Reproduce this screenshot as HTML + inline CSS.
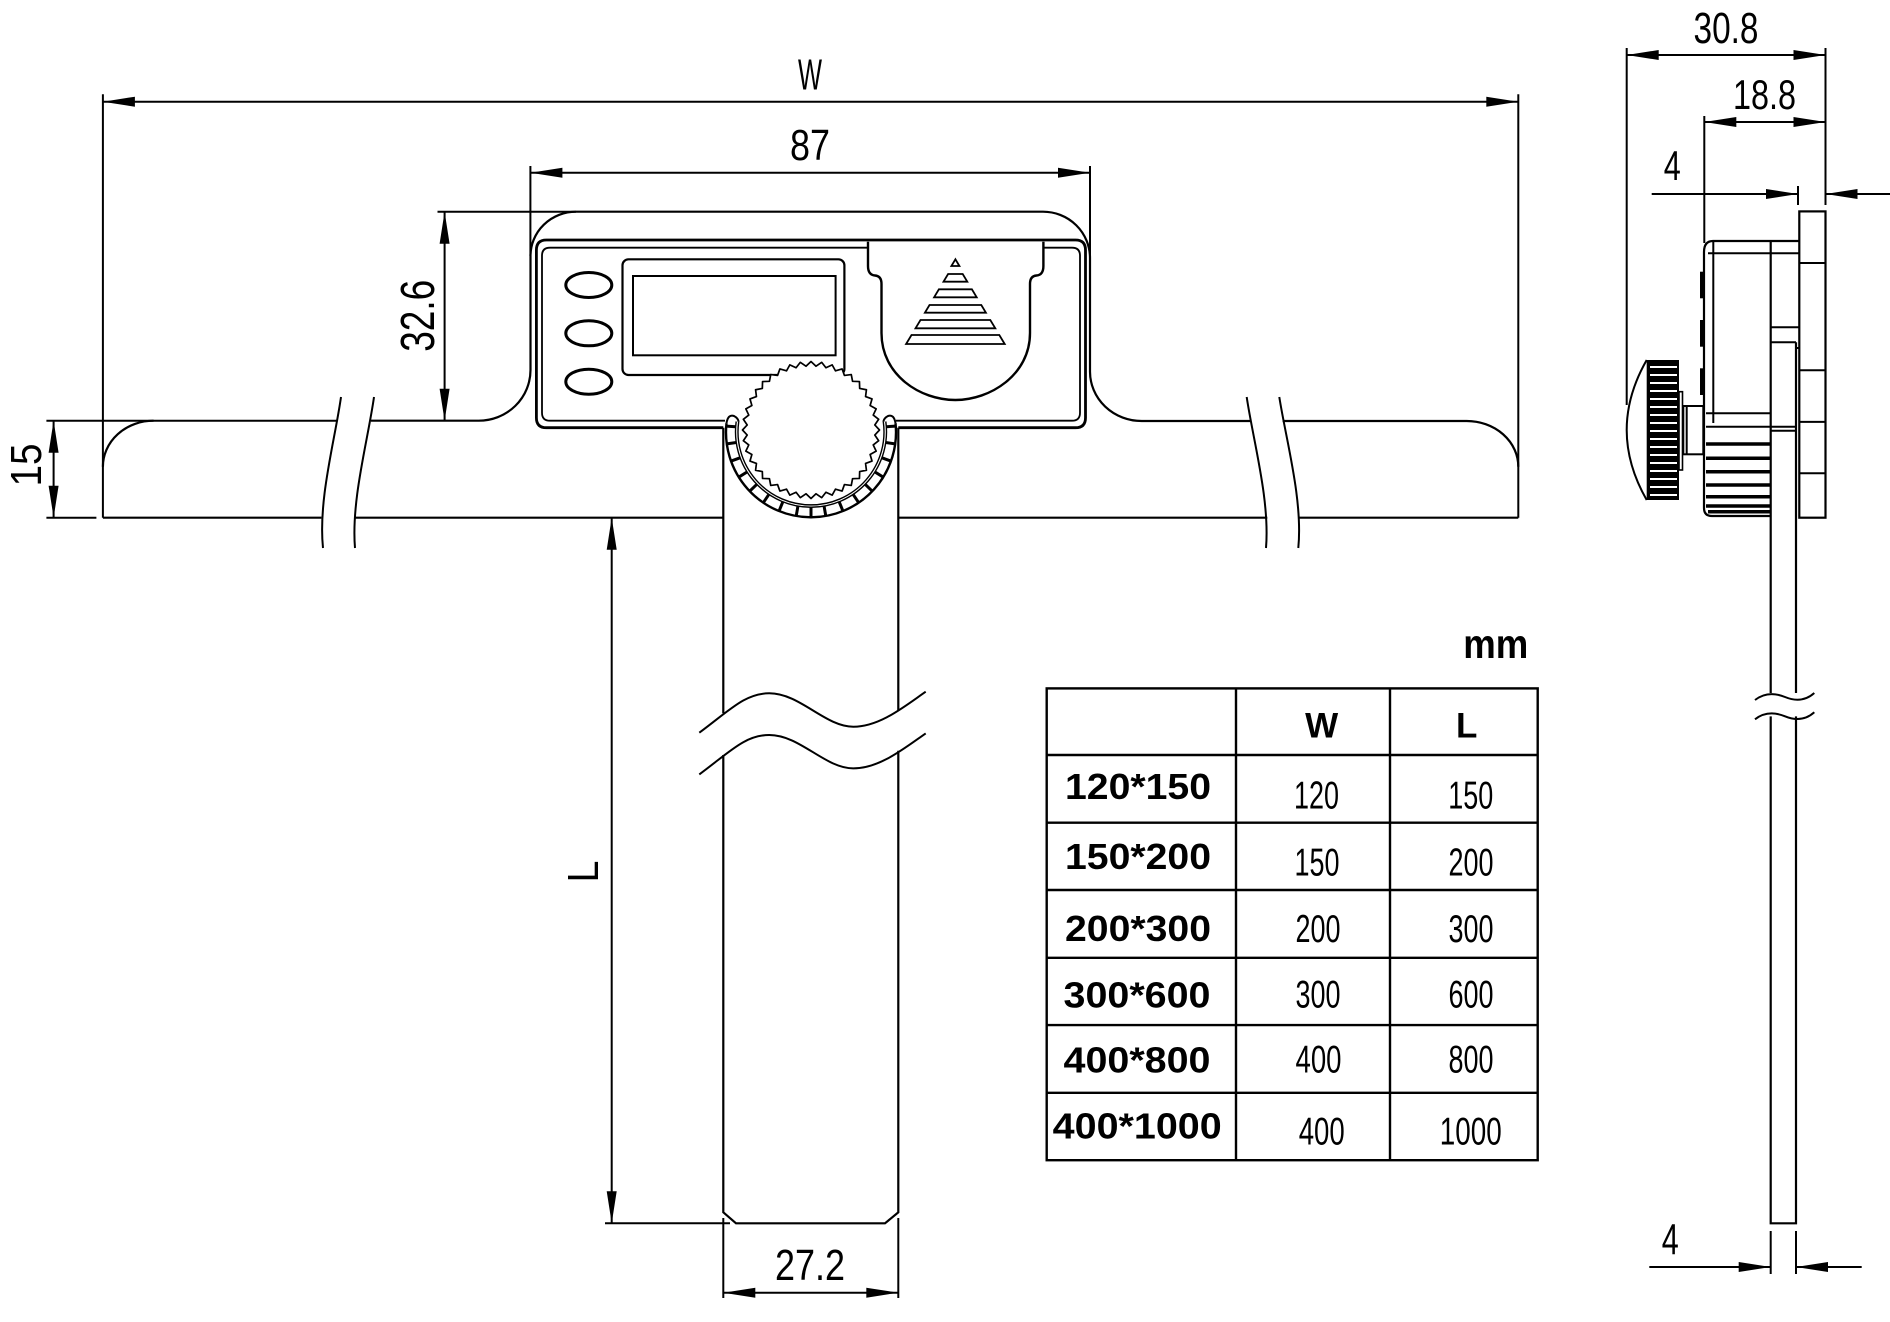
<!DOCTYPE html>
<html><head><meta charset="utf-8"><style>
html,body{margin:0;padding:0;background:#fff;}
svg{display:block;}
.d{font-family:"Liberation Sans",Arial,sans-serif;font-size:44px;fill:#000;stroke:none;}
.b{font-family:"Liberation Sans",Arial,sans-serif;font-weight:bold;fill:#000;stroke:none;}
.v{font-family:"Liberation Sans",Arial,sans-serif;font-size:39px;fill:#000;stroke:none;}
</style></head><body>
<svg width="1890" height="1322" viewBox="0 0 1890 1322" xmlns="http://www.w3.org/2000/svg">
<rect width="1890" height="1322" fill="#fff"/>
<g fill="none" stroke="#000" stroke-width="2">
<!-- dimension lines top view -->
<line x1="102.9" y1="101.7" x2="1518.3" y2="101.7"/>
<line x1="102.9" y1="94.3" x2="102.9" y2="517.7"/>
<line x1="1518.3" y1="94.3" x2="1518.3" y2="517.7"/>
<line x1="530.4" y1="172.7" x2="1090" y2="172.7"/>
<line x1="530.4" y1="166" x2="530.4" y2="256"/>
<line x1="1090" y1="166" x2="1090" y2="258"/>
<line x1="444.6" y1="211.7" x2="444.6" y2="420.7"/>
<line x1="437.5" y1="211.7" x2="576" y2="211.7"/>
<line x1="53.6" y1="420.7" x2="53.6" y2="517.7"/>
<line x1="46.4" y1="420.7" x2="337.5" y2="420.7"/>
<line x1="46.4" y1="517.7" x2="96.4" y2="517.7"/>
<line x1="611.7" y1="517.7" x2="611.7" y2="1223.3"/>
<line x1="605" y1="1223.3" x2="730" y2="1223.3"/>
<line x1="723.3" y1="1292.7" x2="898.3" y2="1292.7"/>
<line x1="723.3" y1="1218" x2="723.3" y2="1298"/>
<line x1="898.3" y1="1218" x2="898.3" y2="1298"/>

<!-- bar & body outline -->
<path stroke-width="2.2" d="M371,420.7 L478.6,420.7 A51.8 50.7 0 0 0 530.5,370 L530.5,256 A45.5 44.3 0 0 1 576,211.7 L1043,211.7 A47 46.3 0 0 1 1090,258 L1090,371.7 A51.7 49.3 0 0 0 1141.7,421 L1250,421"/>
<path stroke-width="2.2" d="M1282.7,421 L1466.7,421 A51.6 45.7 0 0 1 1518.3,466.7"/>
<path stroke-width="2.2" d="M102.9,466.7 A50.7 46 0 0 1 153.6,420.7"/>
<line stroke-width="2.2" x1="102.9" y1="517.7" x2="321.4" y2="517.7"/>
<line stroke-width="2.2" x1="355" y1="517.7" x2="723.3" y2="517.7"/>
<line stroke-width="2.2" x1="898.3" y1="517.7" x2="1267.3" y2="517.7"/>
<line stroke-width="2.2" x1="1299.3" y1="517.7" x2="1518.3" y2="517.7"/>
<!-- bar break lines -->
<path d="M341,397 C335,440 318,500 323,548"/>
<path d="M374,397 C368,440 351,500 355,548"/>
<path d="M1246.7,397 C1253,440 1270,500 1266,548"/>
<path d="M1279.3,397 C1286,440 1303,500 1298.3,548"/>

<!-- blade -->
<path stroke-width="2.2" d="M723.3,427.7 L723.3,713.3"/>
<path stroke-width="2.2" d="M723.3,755 L723.3,1212.3 L736,1223.3 L885,1223.3 L898.3,1212.3 L898.3,750.7"/>
<path stroke-width="2.2" d="M898.3,710 L898.3,427.7"/>
<path d="M699.3,732.7 C730,710 745,693.3 769.3,693.3 C800,693.3 825,726.7 853.3,726.7 C880,726.7 905,706 925.7,691.7"/>
<path d="M699.3,774.4 C730,751.7 745,735 769.3,735 C800,735 825,768.4 853.3,768.4 C880,768.4 905,747.7 925.7,733.4"/>

<!-- frame -->
<path stroke-width="2.8" d="M723.3,427.7 L546.4,427.7 Q536.4,427.7 536.4,417.7 L536.4,250 Q536.4,240 546.4,240 L1075.5,240 Q1085.5,240 1085.5,250 L1085.5,417.7 Q1085.5,427.7 1075.5,427.7 L898.3,427.7"/>
<path stroke-width="1.8" d="M725,420.7 L550,420.7 Q542,420.7 542,412.7 L542,255.7 Q542,247.7 550,247.7 L868,247.7 M1043.4,247.7 L1072,247.7 Q1080,247.7 1080,255.7 L1080,412.7 Q1080,420.7 1072,420.7 L896,420.7"/>
<!-- buttons -->
<ellipse cx="588.8" cy="285" rx="23" ry="12.5" stroke-width="3"/>
<ellipse cx="588.8" cy="333.3" rx="23" ry="12.5" stroke-width="3"/>
<ellipse cx="588.8" cy="381.7" rx="23" ry="12.5" stroke-width="3"/>
<!-- LCD -->
<rect x="622.5" y="259.3" width="221.9" height="115.7" rx="6" stroke-width="2.2"/>
<rect x="633" y="276" width="202.6" height="79.3" stroke-width="2"/>
<!-- battery cover -->
<path stroke-width="2.4" d="M868,241.7 L868,266 Q868,275 875,275.5 Q881.5,276 881.5,284 L881.5,333 C881.5,375 920,400 955.4,400 C990,400 1030,375 1030,333 L1030,284 Q1030,276 1036.5,275.5 Q1043.4,275 1043.4,266 L1043.4,241.7"/>
<g stroke-width="1.8">
<polygon points="955.4,259.3 951.4,266 959.4,266"/>
<polygon points="948.1,274 962.7,274 967.3,281.7 943.5,281.7"/>
<polygon points="938.9,289.3 971.9,289.3 976.7,297.3 934.1,297.3"/>
<polygon points="929.5,305 981.3,305 985.9,312.7 924.9,312.7"/>
<polygon points="920.5,320 990.3,320 995.3,328.3 915.5,328.3"/>
<polygon points="911.5,335 999.3,335 1004.7,344 906.1,344"/>
</g>

<!-- knob holder -->
<path stroke-width="2.4" d="M726.5,423.1 A85 85 0 1 0 895.5,423.1"/>
<path stroke-width="1.4" d="M738.7,421.8 A73 73 0 1 0 883.3,421.8"/>
<path stroke-width="1.4" d="M736.2,421.5 A75.5 75.5 0 1 0 885.8,421.5"/>
<path stroke-width="2" d="M726.5,423.1 Q728,414 734,416 Q738,418 738.7,421.8"/>
<path stroke-width="2" d="M895.5,423.1 Q894,414 888,416 Q884,418 883.3,421.8"/>
<g stroke-width="3" transform="translate(811,432)">
<line x1="75.5" y1="0" x2="85" y2="0" transform="rotate(-4)"/>
<line x1="75.5" y1="0" x2="85" y2="0" transform="rotate(8)"/>
<line x1="75.5" y1="0" x2="85" y2="0" transform="rotate(20)"/>
<line x1="75.5" y1="0" x2="85" y2="0" transform="rotate(32)"/>
<line x1="75.5" y1="0" x2="85" y2="0" transform="rotate(44)"/>
<line x1="75.5" y1="0" x2="85" y2="0" transform="rotate(56)"/>
<line x1="75.5" y1="0" x2="85" y2="0" transform="rotate(68)"/>
<line x1="75.5" y1="0" x2="85" y2="0" transform="rotate(80)"/>
<line x1="75.5" y1="0" x2="85" y2="0" transform="rotate(90)"/>
<line x1="75.5" y1="0" x2="85" y2="0" transform="rotate(100)"/>
<line x1="75.5" y1="0" x2="85" y2="0" transform="rotate(112)"/>
<line x1="75.5" y1="0" x2="85" y2="0" transform="rotate(124)"/>
<line x1="75.5" y1="0" x2="85" y2="0" transform="rotate(136)"/>
<line x1="75.5" y1="0" x2="85" y2="0" transform="rotate(148)"/>
<line x1="75.5" y1="0" x2="85" y2="0" transform="rotate(160)"/>
<line x1="75.5" y1="0" x2="85" y2="0" transform="rotate(172)"/>
<line x1="75.5" y1="0" x2="85" y2="0" transform="rotate(184)"/>
</g>
<!-- knob gear -->
<g transform="translate(811,430)">
<polygon fill="#fff" stroke-width="1.7" stroke-linejoin="round" points="68.5,0 63.8,5.02 67.66,10.72 62.23,14.94 65.15,21.17 59.13,24.49 61.03,31.1 54.57,33.44 55.42,40.26 48.67,41.56 48.44,48.44 41.56,48.67 40.26,55.42 33.44,54.57 31.1,61.03 24.49,59.13 21.17,65.15 14.94,62.23 10.72,67.66 5.02,63.8 0,68.5 -5.02,63.8 -10.72,67.66 -14.94,62.23 -21.17,65.15 -24.49,59.13 -31.1,61.03 -33.44,54.57 -40.26,55.42 -41.56,48.67 -48.44,48.44 -48.67,41.56 -55.42,40.26 -54.57,33.44 -61.03,31.1 -59.13,24.49 -65.15,21.17 -62.23,14.94 -67.66,10.72 -63.8,5.02 -68.5,0 -63.8,-5.02 -67.66,-10.72 -62.23,-14.94 -65.15,-21.17 -59.13,-24.49 -61.03,-31.1 -54.57,-33.44 -55.42,-40.26 -48.67,-41.56 -48.44,-48.44 -41.56,-48.67 -40.26,-55.42 -33.44,-54.57 -31.1,-61.03 -24.49,-59.13 -21.17,-65.15 -14.94,-62.23 -10.72,-67.66 -5.02,-63.8 0,-68.5 5.02,-63.8 10.72,-67.66 14.94,-62.23 21.17,-65.15 24.49,-59.13 31.1,-61.03 33.44,-54.57 40.26,-55.42 41.56,-48.67 48.44,-48.44 48.67,-41.56 55.42,-40.26 54.57,-33.44 61.03,-31.1 59.13,-24.49 65.15,-21.17 62.23,-14.94 67.66,-10.72 63.8,-5.02"/>
</g>

<!-- side view dims -->
<line x1="1626.7" y1="55" x2="1825.5" y2="55"/>
<line x1="1626.7" y1="48" x2="1626.7" y2="405"/>
<line x1="1825.5" y1="48" x2="1825.5" y2="205"/>
<line x1="1704.3" y1="122" x2="1825.5" y2="122"/>
<line x1="1704.3" y1="116" x2="1704.3" y2="243"/>
<line x1="1651.7" y1="194" x2="1798" y2="194"/>
<line x1="1825.5" y1="194" x2="1890" y2="194"/>
<line x1="1798" y1="186" x2="1798" y2="205"/>
<line x1="1649.3" y1="1267" x2="1770.7" y2="1267"/>
<line x1="1796" y1="1267" x2="1861.7" y2="1267"/>
<line x1="1770.7" y1="1231" x2="1770.7" y2="1274"/>
<line x1="1796" y1="1231" x2="1796" y2="1274"/>

<!-- side view plate -->
<rect x="1799.3" y="211.4" width="26.2" height="306.3" stroke-width="2.2"/>
<line x1="1799.3" y1="263" x2="1825.5" y2="263"/>
<line x1="1799.3" y1="370.2" x2="1825.5" y2="370.2"/>
<line x1="1799.3" y1="421.9" x2="1825.5" y2="421.9"/>
<line x1="1799.3" y1="473.3" x2="1825.5" y2="473.3"/>
<!-- side body -->
<path stroke-width="2.2" d="M1799,241 L1713,241 Q1704,241 1704,252 L1704,508 Q1704,516 1712,516 L1770.7,516"/>
<line x1="1708" y1="253.3" x2="1799" y2="253.3"/>
<line x1="1713.3" y1="241" x2="1713.3" y2="423"/>
<line x1="1770.7" y1="327.3" x2="1799" y2="327.3"/>
<line x1="1770.7" y1="342.3" x2="1796" y2="342.3"/>
<path d="M1796,348 L1799,348"/>
<line x1="1706" y1="413.3" x2="1770.7" y2="413.3"/>
<line x1="1706" y1="426.7" x2="1796" y2="426.7"/>
<line x1="1770.7" y1="430.7" x2="1796" y2="430.7"/>
<g stroke-width="3.5">
<line x1="1706" y1="444" x2="1770.7" y2="444"/>
<line x1="1706" y1="458.3" x2="1770.7" y2="458.3"/>
<line x1="1706" y1="471.7" x2="1770.7" y2="471.7"/>
<line x1="1706" y1="485" x2="1770.7" y2="485"/>
<line x1="1706" y1="496.7" x2="1770.7" y2="496.7"/>
<line x1="1706" y1="506" x2="1770.7" y2="506"/>
<line x1="1708" y1="511.7" x2="1770.7" y2="511.7"/>
</g>
<!-- side blade -->
<path stroke-width="2.2" d="M1770.7,241 L1770.7,693"/>
<path stroke-width="2.2" d="M1770.7,716.4 L1770.7,1223.3 L1796,1223.3 L1796,716.4"/>
<path stroke-width="2.2" d="M1796,693 L1796,342.3"/>
<path d="M1755,700 Q1768,690 1785,697 T1814.3,693"/>
<path d="M1755,719.3 Q1768,709.3 1785,716.3 T1814.3,712.3"/>
<!-- side knob -->
<path stroke-width="2" d="M1646.7,360 Q1606.7,430 1646.7,500"/>
<rect x="1679" y="391.7" width="3.5" height="78.3" stroke-width="1.6"/>
<rect x="1683.3" y="406" width="20" height="48.3" stroke-width="2"/>
<line x1="1686.7" y1="406" x2="1686.7" y2="454.3"/>

<!-- table -->
<g stroke-width="2.4">
<rect x="1046.7" y="688.4" width="491" height="471.8"/>
<line x1="1236" y1="688.4" x2="1236" y2="1160.2"/>
<line x1="1390" y1="688.4" x2="1390" y2="1160.2"/>
<line x1="1046.7" y1="755" x2="1537.7" y2="755"/>
<line x1="1046.7" y1="822.7" x2="1537.7" y2="822.7"/>
<line x1="1046.7" y1="890" x2="1537.7" y2="890"/>
<line x1="1046.7" y1="957.8" x2="1537.7" y2="957.8"/>
<line x1="1046.7" y1="1025.1" x2="1537.7" y2="1025.1"/>
<line x1="1046.7" y1="1092.8" x2="1537.7" y2="1092.8"/>
</g>
</g>

<!-- filled shapes -->
<g fill="#000" stroke="none">
<!-- arrowheads -->
<polygon points="102.9,101.7 134.9,96.7 134.9,106.7"/>
<polygon points="1518.3,101.7 1486.3,96.7 1486.3,106.7"/>
<polygon points="530.4,172.7 562.4,167.7 562.4,177.7"/>
<polygon points="1090,172.7 1058,167.7 1058,177.7"/>
<polygon points="723.3,1292.7 755.3,1287.7 755.3,1297.7"/>
<polygon points="898.3,1292.7 866.3,1287.7 866.3,1297.7"/>
<polygon points="444.6,211.7 439.6,243.7 449.6,243.7"/>
<polygon points="444.6,420.7 439.6,388.7 449.6,388.7"/>
<polygon points="53.6,420.7 48.6,452.7 58.6,452.7"/>
<polygon points="53.6,517.7 48.6,485.7 58.6,485.7"/>
<polygon points="611.7,517.7 606.7,549.7 616.7,549.7"/>
<polygon points="611.7,1223.3 606.7,1191.3 616.7,1191.3"/>
<polygon points="1626.7,55 1658.7,50 1658.7,60"/>
<polygon points="1825.5,55 1793.5,50 1793.5,60"/>
<polygon points="1704.3,122 1736.3,117 1736.3,127"/>
<polygon points="1825.5,122 1793.5,117 1793.5,127"/>
<polygon points="1798,194 1766,189 1766,199"/>
<polygon points="1825.5,194 1857.5,189 1857.5,199"/>
<polygon points="1770.7,1267 1738.7,1262 1738.7,1272"/>
<polygon points="1796,1267 1828,1262 1828,1272"/>
<!-- side buttons -->
<rect x="1700" y="271.7" width="5" height="26.6"/>
<rect x="1700" y="320" width="5" height="26.7"/>
<rect x="1700" y="368.3" width="5" height="26.7"/>
<!-- side knob knurl -->
<rect x="1646.7" y="360" width="32.3" height="140"/>
</g>
<g stroke="#fff" stroke-width="2">
<line x1="1650" y1="367" x2="1677" y2="367"/>
<line x1="1650" y1="375" x2="1677" y2="375"/>
<line x1="1650" y1="383" x2="1677" y2="383"/>
<line x1="1650" y1="391" x2="1677" y2="391"/>
<line x1="1650" y1="399" x2="1677" y2="399"/>
<line x1="1650" y1="407" x2="1677" y2="407"/>
<line x1="1650" y1="415" x2="1677" y2="415"/>
<line x1="1650" y1="423" x2="1677" y2="423"/>
<line x1="1650" y1="431" x2="1677" y2="431"/>
<line x1="1650" y1="439" x2="1677" y2="439"/>
<line x1="1650" y1="447" x2="1677" y2="447"/>
<line x1="1650" y1="455" x2="1677" y2="455"/>
<line x1="1650" y1="463" x2="1677" y2="463"/>
<line x1="1650" y1="471" x2="1677" y2="471"/>
<line x1="1650" y1="479" x2="1677" y2="479"/>
<line x1="1650" y1="487" x2="1677" y2="487"/>
<line x1="1650" y1="495" x2="1677" y2="495"/>
</g>

<!-- dimension text -->
<text class="d" x="810" y="89.3" text-anchor="middle" textLength="24" lengthAdjust="spacingAndGlyphs">W</text>
<text class="d" x="810" y="160" text-anchor="middle" textLength="40" lengthAdjust="spacingAndGlyphs">87</text>
<text class="d" x="810" y="1280" text-anchor="middle" textLength="70" lengthAdjust="spacingAndGlyphs">27.2</text>
<text class="d" style="font-size:48px" transform="translate(434,315.8) rotate(-90)" text-anchor="middle" textLength="72" lengthAdjust="spacingAndGlyphs">32.6</text>
<text class="d" transform="translate(41,465) rotate(-90)" text-anchor="middle" textLength="43" lengthAdjust="spacingAndGlyphs">15</text>
<text class="d" transform="translate(598,871.5) rotate(-90)" text-anchor="middle" textLength="22" lengthAdjust="spacingAndGlyphs">L</text>
<text class="d" x="1726" y="42.9" text-anchor="middle" textLength="65" lengthAdjust="spacingAndGlyphs">30.8</text>
<text class="d" style="font-size:42px" x="1764.5" y="109" text-anchor="middle" textLength="63" lengthAdjust="spacingAndGlyphs">18.8</text>
<text class="d" style="font-size:42px" x="1672.3" y="180" text-anchor="middle" textLength="17" lengthAdjust="spacingAndGlyphs">4</text>
<text class="d" x="1670.3" y="1254.4" text-anchor="middle" textLength="17" lengthAdjust="spacingAndGlyphs">4</text>

<!-- table text -->
<text class="b" style="font-size:41px" x="1463.3" y="657.9" textLength="65" lengthAdjust="spacingAndGlyphs">mm</text>
<text class="b" style="font-size:35px" x="1321.7" y="737.5" text-anchor="middle">W</text>
<text class="b" style="font-size:35px" x="1466.7" y="737.5" text-anchor="middle">L</text>
<g class="b" style="font-size:36px">
<text class="b" style="font-size:36px" x="1138" y="798.9" text-anchor="middle" textLength="146" lengthAdjust="spacingAndGlyphs">120*150</text>
<text class="b" style="font-size:36px" x="1138" y="869" text-anchor="middle" textLength="146" lengthAdjust="spacingAndGlyphs">150*200</text>
<text class="b" style="font-size:36px" x="1138" y="941" text-anchor="middle" textLength="146" lengthAdjust="spacingAndGlyphs">200*300</text>
<text class="b" style="font-size:36px" x="1137" y="1007.6" text-anchor="middle" textLength="147" lengthAdjust="spacingAndGlyphs">300*600</text>
<text class="b" style="font-size:36px" x="1137" y="1072.5" text-anchor="middle" textLength="147" lengthAdjust="spacingAndGlyphs">400*800</text>
<text class="b" style="font-size:36px" x="1137.2" y="1138.4" text-anchor="middle" textLength="169" lengthAdjust="spacingAndGlyphs">400*1000</text>
</g>
<text class="v" x="1316.5" y="808.4" text-anchor="middle" textLength="45" lengthAdjust="spacingAndGlyphs">120</text>
<text class="v" x="1470.8" y="808.4" text-anchor="middle" textLength="45" lengthAdjust="spacingAndGlyphs">150</text>
<text class="v" x="1317" y="875.3" text-anchor="middle" textLength="45" lengthAdjust="spacingAndGlyphs">150</text>
<text class="v" x="1471" y="875.3" text-anchor="middle" textLength="45" lengthAdjust="spacingAndGlyphs">200</text>
<text class="v" x="1318" y="942" text-anchor="middle" textLength="45" lengthAdjust="spacingAndGlyphs">200</text>
<text class="v" x="1471" y="942" text-anchor="middle" textLength="45" lengthAdjust="spacingAndGlyphs">300</text>
<text class="v" x="1318" y="1007.6" text-anchor="middle" textLength="45" lengthAdjust="spacingAndGlyphs">300</text>
<text class="v" x="1471" y="1007.6" text-anchor="middle" textLength="45" lengthAdjust="spacingAndGlyphs">600</text>
<text class="v" x="1318.5" y="1072.5" text-anchor="middle" textLength="46" lengthAdjust="spacingAndGlyphs">400</text>
<text class="v" x="1471" y="1072.5" text-anchor="middle" textLength="45" lengthAdjust="spacingAndGlyphs">800</text>
<text class="v" x="1321.7" y="1144.4" text-anchor="middle" textLength="46" lengthAdjust="spacingAndGlyphs">400</text>
<text class="v" x="1470.8" y="1144.4" text-anchor="middle" textLength="62" lengthAdjust="spacingAndGlyphs">1000</text>
</svg>
</body></html>
